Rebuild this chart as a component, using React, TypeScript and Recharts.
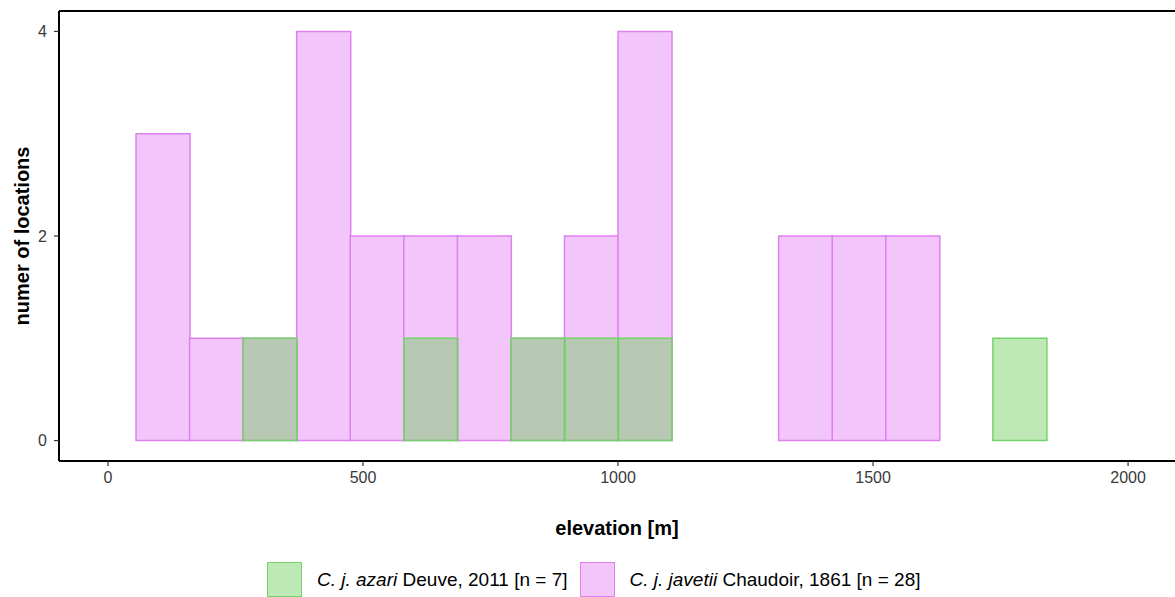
import React from 'react';
import { ComposedChart, Bar, XAxis, YAxis, Label } from 'recharts';

// histogram bins (bin width 105 m), value = bin midpoint
const binMids = [107.5, 212.5, 317.5, 422.5, 527.5, 632.5, 737.5, 842.5, 947.5, 1052.5, 1157.5, 1262.5, 1367.5, 1472.5, 1577.5, 1682.5, 1787.5];
const javetiiCounts = [3, 1, 1, 4, 2, 2, 2, 1, 2, 4, 0, 0, 2, 2, 2, 0, 0];
const azariCounts = [0, 0, 1, 0, 0, 1, 0, 1, 1, 1, 0, 0, 0, 0, 0, 0, 1];

const xTicks = [0, 500, 1000, 1500, 2000];
const yTicks = [0, 2, 4];
const xDomain = [-96, 2092];
const yDomain = [-0.2, 4.2];

const legendItems = [
	{ italic: 'C. j. azari', rest: ' Deuve, 2011 [n = 7]', key: 'azari' },
	{ italic: 'C. j. javetii', rest: ' Chaudoir, 1861 [n = 28]', key: 'javetii' },
];

const data = binMids.map((mid, i) => ({
	mid,
	javetii: javetiiCounts[i],
	azari: azariCounts[i],
}));

const FONT = '"Liberation Sans", Arial, Helvetica, sans-serif';
const PINK_FILL = '#f3c6fb';
const PINK_LINE = '#df80f0';
const GREEN_FILL = '#6fcc5c';
const GREEN_OPACITY = 0.45;
const GREEN_LINE = '#73d467';

const tickStyle = { fontFamily: FONT, fontSize: 16, fill: '#3a3a3a' };

const XTitle = (props: any) => {
	const { x, width } = props.viewBox;
	return (
		<text x={ x + width / 2 } y={ 535 } textAnchor="middle" fontFamily={ FONT } fontSize={ 20 } fontWeight="bold" fill="#000">
			elevation [m]
		</text>
	);
};

const YTitle = (props: any) => {
	const { y, height } = props.viewBox;
	const cx = 29;
	const cy = y + height / 2;
	return (
		<text x={ cx } y={ cy } transform={ `rotate(-90, ${ cx }, ${ cy })` } textAnchor="middle" fontFamily={ FONT } fontSize={ 20 } fontWeight="bold" fill="#000">
			numer of locations
		</text>
	);
};

const LegendKey = ({ which }: { which: string }) => (
	<div
		style={ {
			width: 35,
			height: 35,
			boxSizing: 'border-box',
			border: `1.5px solid ${ which === 'azari' ? GREEN_LINE : PINK_LINE }`,
			background: which === 'azari' ? 'rgba(111,204,92,0.45)' : PINK_FILL,
		} }
	/>
);

export default function App() {
	return (
		<div style={ { position: 'relative', width: 1175, height: 597, overflow: 'hidden', background: '#fff' } }>
			<style>{ 'body{margin:0}' }</style>
			<ComposedChart
				width={ 1175 }
				height={ 597 }
				data={ data }
				margin={ { top: 10, right: 0, bottom: 106, left: 0 } }
				barCategoryGap={ 0 }
				barGap={ 0 }
			>
				<XAxis
					xAxisId="bottom"
					dataKey="mid"
					type="number"
					domain={ xDomain }
					ticks={ xTicks }
					allowDataOverflow
					height={ 30 }
					tickSize={ 5 }
					tickMargin={ 6 }
					tick={ tickStyle }
					axisLine={ { stroke: '#000', strokeWidth: 2 } }
					tickLine={ { stroke: '#333', strokeWidth: 1.2 } }
				>
					<Label content={ XTitle } />
				</XAxis>
				<XAxis
					xAxisId="top"
					orientation="top"
					dataKey="mid"
					type="number"
					domain={ xDomain }
					allowDataOverflow
					height={ 1 }
					tick={ false }
					tickLine={ false }
					axisLine={ { stroke: '#000', strokeWidth: 2 } }
				/>
				<YAxis
					type="number"
					domain={ yDomain }
					ticks={ yTicks }
					allowDataOverflow
					width={ 59 }
					tickSize={ 5 }
					tickMargin={ 7 }
					tick={ tickStyle }
					axisLine={ { stroke: '#000', strokeWidth: 2 } }
					tickLine={ { stroke: '#333', strokeWidth: 1.2 } }
				>
					<Label content={ YTitle } />
				</YAxis>
				<Bar
					xAxisId="bottom"
					dataKey="javetii"
					fill={ PINK_FILL }
					stroke={ PINK_LINE }
					strokeWidth={ 1.5 }
					isAnimationActive={ false }
				/>
				<Bar
					xAxisId="top"
					dataKey="azari"
					fill={ GREEN_FILL }
					fillOpacity={ GREEN_OPACITY }
					stroke={ GREEN_LINE }
					strokeWidth={ 1.5 }
					isAnimationActive={ false }
				/>
			</ComposedChart>
			<div style={ { position: 'absolute', top: 562, left: 267, display: 'flex', alignItems: 'center', fontFamily: FONT, fontSize: 19, color: '#000', whiteSpace: 'nowrap' } }>
				{ legendItems.map((item, i) => (
					<div key={ item.key } style={ { display: 'flex', alignItems: 'center', marginLeft: i === 0 ? 0 : 12 } }>
						<LegendKey which={ item.key } />
						<span style={ { marginLeft: 15 } }>
							<i>{ item.italic }</i>{ item.rest }
						</span>
					</div>
				)) }
			</div>
		</div>
	);
}
